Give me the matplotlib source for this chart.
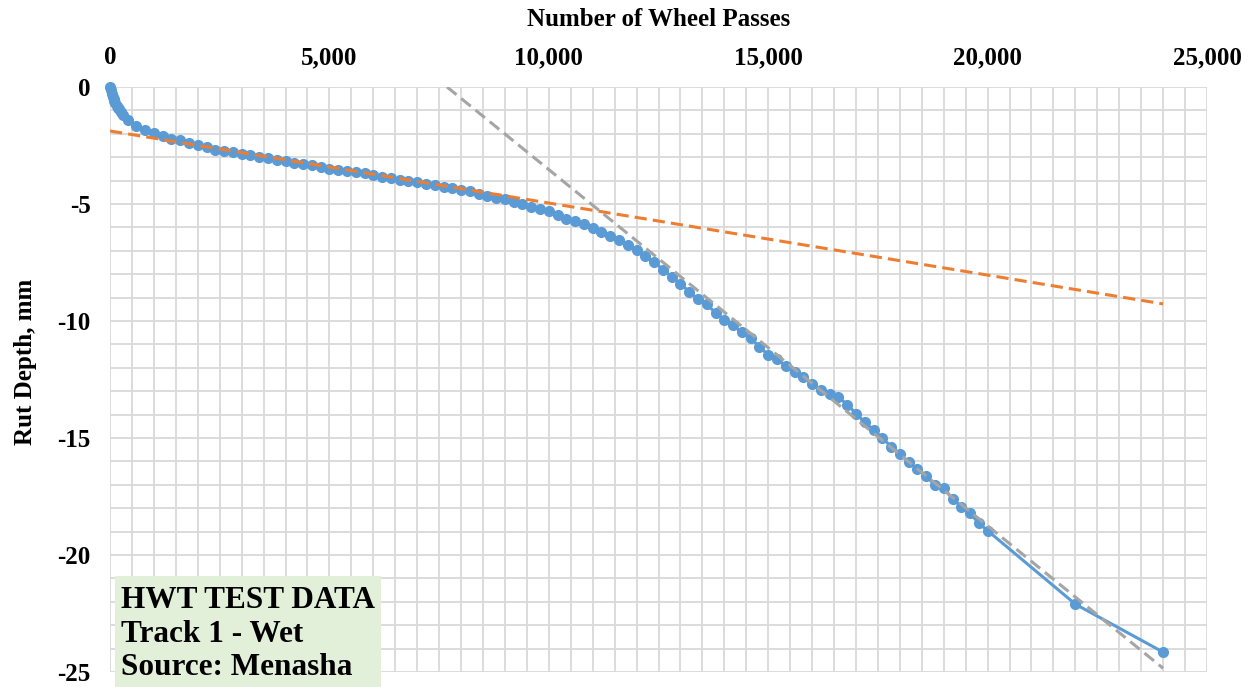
import matplotlib
matplotlib.use("Agg")
import numpy as np
from matplotlib import pyplot as plt
from matplotlib.patches import Rectangle
from matplotlib.ticker import MultipleLocator, FuncFormatter

plt.rcParams['font.family'] = ['Liberation Serif', 'DejaVu Serif']
plt.rcParams['font.weight'] = 'bold'

# HWT rut depth readings (wheel passes, mm)
passes = [0, 20, 40, 60, 80, 100, 125, 150, 175, 200, 250, 300,
          400, 600, 800, 1000, 1200, 1400, 1600, 1800, 2000, 2200,
          2400, 2600, 2800, 3000, 3200, 3400, 3600, 3800, 4000, 4200,
          4400, 4600, 4800, 5000, 5200, 5400, 5600, 5800, 6000, 6200,
          6400, 6600, 6800, 7000, 7200, 7400, 7600, 7800, 8000, 8200,
          8400, 8600, 8800, 9000, 9200, 9400, 9600, 9800, 10000, 10200,
          10400, 10600, 10800, 11000, 11200, 11400, 11600, 11800, 12000, 12200,
          12400, 12600, 12800, 13000, 13200, 13400, 13600, 13800, 14000, 14200,
          14400, 14600, 14800, 15000, 15200, 15400, 15600, 15800, 16000, 16200,
          16400, 16600, 16800, 17000, 17200, 17400, 17600, 17800, 18000, 18200,
          18400, 18600, 18800, 19000, 19200, 19400, 19600, 19800, 20000,
          22000, 24000]
rut = [0.0, -0.15, -0.30, -0.42, -0.52, -0.60, -0.70, -0.80, -0.88, -0.95, -1.08, -1.20,
       -1.40, -1.66, -1.85, -1.97, -2.10, -2.22, -2.28, -2.39, -2.48, -2.58,
       -2.68, -2.72, -2.79, -2.85, -2.91, -2.99, -3.05, -3.10, -3.17, -3.25,
       -3.30, -3.35, -3.42, -3.49, -3.55, -3.58, -3.64, -3.69, -3.77, -3.83,
       -3.89, -3.96, -4.01, -4.05, -4.14, -4.19, -4.26, -4.32, -4.39, -4.46,
       -4.56, -4.64, -4.73, -4.80, -4.90, -5.01, -5.11, -5.20, -5.30, -5.47,
       -5.63, -5.73, -5.87, -6.03, -6.18, -6.36, -6.52, -6.75, -6.97, -7.24,
       -7.48, -7.80, -8.12, -8.40, -8.76, -9.07, -9.28, -9.66, -9.94, -10.18,
       -10.49, -10.74, -11.10, -11.45, -11.64, -11.93, -12.18, -12.39, -12.71, -12.95,
       -13.13, -13.25, -13.57, -13.96, -14.32, -14.66, -14.99, -15.37, -15.67, -16.03,
       -16.31, -16.63, -17.01, -17.15, -17.60, -17.93, -18.22, -18.64, -18.96,
       -22.10, -24.15]

# trend lines (end points)
creep_x = [0, 24000]
creep_y = [-1.88, -9.27]
strip_x = [7680, 24000]
strip_y = [0.0, -24.84]

fig = plt.figure(figsize=(12.53, 6.87), dpi=100)
ax = fig.add_axes([0.0878, 0.0218, 0.8755, 0.8516])

ax.plot(passes, rut, color='#5b9bd5', lw=2.2, marker='o', ms=7,
        clip_on=False, zorder=3)
ax.plot(creep_x, creep_y, color='#ed7d31', lw=2.2, ls=(0, (4, 2)), zorder=4)
ax.plot(strip_x, strip_y, color='#a5a5a5', lw=2.2, ls=(0, (4, 2)), zorder=4)

ax.set_xlim(0, 25000)
ax.set_ylim(-25, 0)
ax.xaxis.set_major_locator(MultipleLocator(5000))
ax.xaxis.set_minor_locator(MultipleLocator(500))
ax.yaxis.set_major_locator(MultipleLocator(5))
ax.yaxis.set_minor_locator(MultipleLocator(1))
ax.xaxis.set_major_formatter(FuncFormatter(lambda v, p: f"{int(v):,}"))
ax.yaxis.set_major_formatter(FuncFormatter(lambda v, p: f"{int(v)}"))
ax.xaxis.tick_top()
ax.xaxis.set_label_position('top')
ax.tick_params(which='both', length=0, labelsize=18)
ax.tick_params(axis='x', pad=13)
ax.tick_params(axis='y', pad=14)
ax.grid(which='both', color='#d9d9d9', lw=1.3)
ax.set_axisbelow(True)
for s in ax.spines.values():
    s.set_visible(False)

ax.set_xlabel('Number of Wheel Passes', fontsize=18, fontweight='bold', labelpad=14)
ax.set_ylabel('Rut Depth, mm', fontsize=18, fontweight='bold')
ax.yaxis.set_label_coords(-0.067, 0.53)

# info box
fig.patches.append(Rectangle((0.0918, 0.0), 0.2123, 0.1616, transform=fig.transFigure,
                             facecolor='#e2efd9', edgecolor='none', zorder=5))
for yy, txt in [(0.1252, 'HWT TEST DATA'), (0.0757, 'Track 1 - Wet'), (0.0277, 'Source: Menasha')]:
    fig.text(0.0966, yy, txt, fontsize=22.5, fontweight='bold', va='center', zorder=6)

fig.savefig('out.png', dpi=100)
